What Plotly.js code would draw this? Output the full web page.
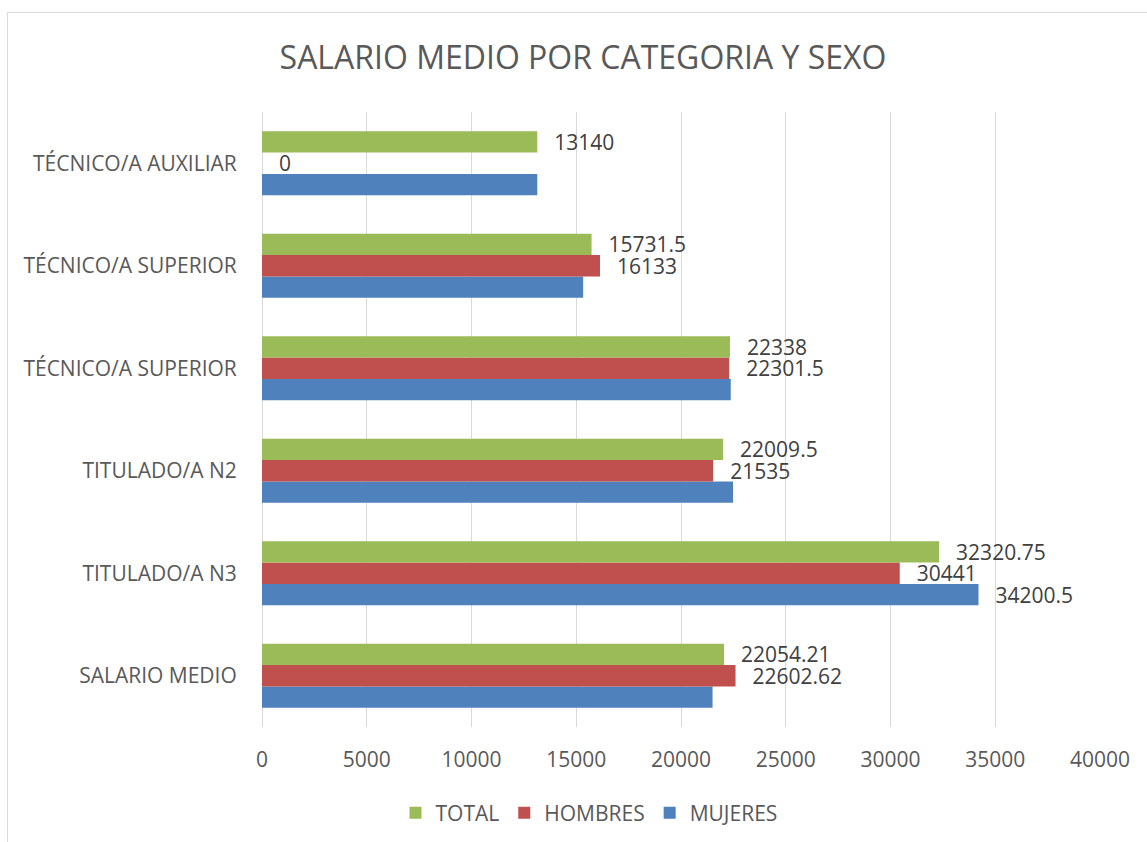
<!DOCTYPE html>
<html>
<head>
<meta charset="utf-8">
<script src="https://cdn.plot.ly/plotly-3.0.1.min.js"></script>
<style>
  html, body { margin: 0; padding: 0; background: #ffffff; }
  #chart { position: absolute; left: 0; top: 0; width: 1147px; height: 842px; }
  #frame { position: absolute; left: 7px; top: 12px; width: 1160px; height: 860px;
           border-top: 1px solid #d9d9d9; border-left: 1px solid #d9d9d9; pointer-events: none; }
</style>
</head>
<body>
<div id="chart"></div>
<div id="frame"></div>
<script>
// Categories listed bottom to top
const categories = ["SALARIO MEDIO", "TITULADO/A N3", "TITULADO/A N2",
                    "TÉCNICO/A SUPERIOR", "TÉCNICO/A SUPERIOR", "TÉCNICO/A AUXILIAR"];
const total   = [22054.21, 32320.75, 22009.5, 22338, 15731.5, 13140];
const hombres = [22602.62, 30441, 21535, 22301.5, 16133, 0];
const mujeres = [21505.8, 34200.5, 22484, 22374.5, 15330, 13140];
const mujeresShowLabel = [false, true, false, false, false, false];
const xTicks = [0, 5000, 10000, 15000, 20000, 25000, 30000, 35000, 40000];

const positions = categories.map((c, i) => i);
const pad = "\u2002\u2009";
const lbl = (arr, show) => arr.map((v, i) => (show && !show[i]) ? "" : pad + String(v));

const FONT = "Open Sans, Lato, sans-serif";
const labelFont = { family: FONT, size: 21, color: "#404040" };

function barTrace(name, values, color, show) {
  return {
    type: "bar", orientation: "h", name: name,
    y: positions, x: values,
    marker: { color: color, line: { width: 0 } },
    text: lbl(values, show), textposition: "outside",
    textfont: labelFont, constraintext: "none", cliponaxis: false,
    hoverinfo: "skip"
  };
}

const data = [
  barTrace("MUJERES", mujeres, "#4F81BD", mujeresShowLabel),
  barTrace("HOMBRES", hombres, "#C0504D", null),
  barTrace("TOTAL", total, "#9BBB59", null)
];

const layout = {
  width: 1147, height: 842,
  paper_bgcolor: "#ffffff", plot_bgcolor: "#ffffff",
  margin: { l: 262, r: 47, t: 112, b: 115 },
  font: { family: FONT, color: "#595959" },
  title: {
    text: "SALARIO MEDIO POR CATEGORIA Y SEXO",
    font: { family: FONT, size: 32, color: "#595959" },
    x: 583 / 1147, xref: "container", xanchor: "center",
    y: 1 - 58 / 842, yref: "container", yanchor: "middle"
  },
  barmode: "group", bargap: 0.376, bargroupgap: 0,
  xaxis: {
    range: [0, 40000], tickvals: xTicks, ticktext: xTicks.map(String),
    showgrid: true, gridcolor: "#d9d9d9", gridwidth: 1,
    zeroline: true, zerolinecolor: "#d9d9d9", zerolinewidth: 1,
    showline: false, ticks: "outside", ticklen: 14, tickcolor: "rgba(0,0,0,0)",
    tickfont: { family: FONT, size: 21, color: "#595959" }, fixedrange: true
  },
  yaxis: {
    range: [-0.5, 5.5], tickvals: positions, ticktext: categories,
    showgrid: false, zeroline: false, showline: false,
    ticks: "outside", ticklen: 20, tickcolor: "rgba(0,0,0,0)",
    tickfont: { family: FONT, size: 21, color: "#595959" }, fixedrange: true
  },
  showlegend: true,
  legend: {
    orientation: "h", traceorder: "reversed",
    xref: "container", yref: "container",
    x: 589 / 1147, xanchor: "center", y: 1 - 813 / 842, yanchor: "middle",
    font: { family: FONT, size: 21, color: "#595959" },
    itemwidth: 30
  },
  hovermode: false
};

Plotly.newPlot("chart", data, layout, { displayModeBar: false, staticPlot: true });
</script>
</body>
</html>
